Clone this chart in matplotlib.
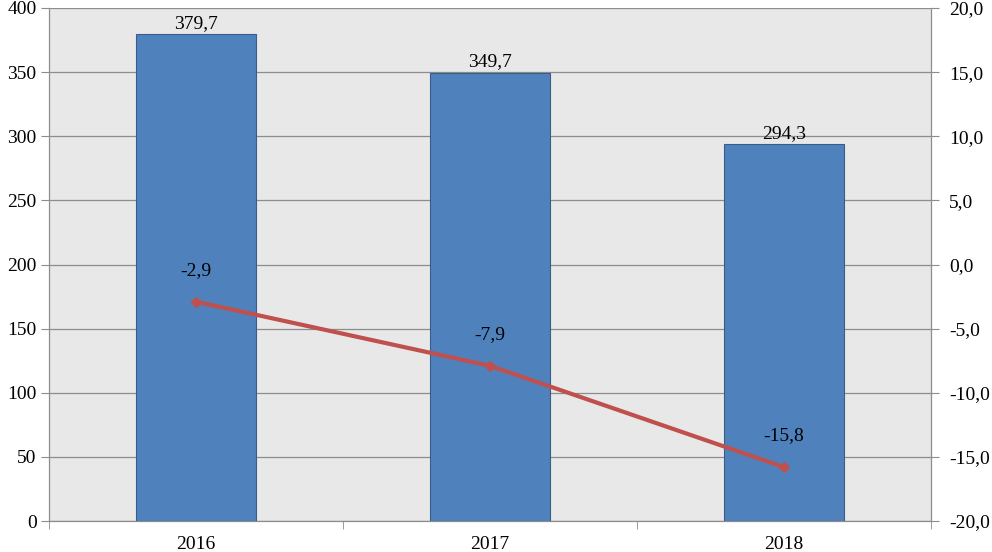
import matplotlib
matplotlib.use("Agg")
import matplotlib.pyplot as plt
import numpy as np

years = ["2016", "2017", "2018"]
bar_values = [379.7, 349.7, 294.3]
line_values = [-2.9, -7.9, -15.8]
left_ticks = [0, 50, 100, 150, 200, 250, 300, 350, 400]
right_ticks = [-20, -15, -10, -5, 0, 5, 10, 15, 20]

plt.rcParams['font.family'] = ['Liberation Serif', 'DejaVu Serif']
FS = 14

fig = plt.figure(figsize=(9.92, 5.52), dpi=100)
ax = fig.add_axes([49/992, 1-521/552, (931-49)/992, (521-8)/552])
ax.set_facecolor('#E8E8E8')
x = np.arange(len(years))
ax.bar(x, bar_values, width=0.405, color='#4F81BD', edgecolor='#385D8A', linewidth=0.8, zorder=3)
ax.set_xlim(-0.5, 2.5)
ax.set_ylim(0, 400)
ax.set_yticks(left_ticks)
ax.set_yticklabels([str(t) for t in left_ticks], fontsize=FS)
ax.grid(axis='y', color='#8C8C8C', linewidth=0.9, zorder=1)
ax.set_xticks(x)
ax.set_xticklabels(years, fontsize=FS)
ax.tick_params(axis='x', length=0, pad=11)
ax.set_xticks([-0.5, 0.5, 1.5, 2.5], minor=True)
ax.tick_params(axis='x', which='minor', length=6, color='#8C8C8C')
ax.tick_params(axis='y', length=6, color='#8C8C8C', pad=3)
ax.spines['top'].set_visible(False)
for s in ['left', 'bottom', 'right']:
    ax.spines[s].set_color('#8C8C8C')
for xi, v in zip(x, bar_values):
    ax.text(xi, v + 1.5, f"{v:.1f}".replace('.', ','), ha='center', va='bottom', fontsize=FS, zorder=5)

ax2 = ax.twinx()
ax2.set_ylim(-20, 20)
ax2.set_yticks(right_ticks)
ax2.set_yticklabels([f"{t:.1f}".replace('.', ',') for t in right_ticks], fontsize=FS)
ax2.tick_params(axis='y', length=6, color='#8C8C8C', pad=7)
ax2.spines['top'].set_visible(False)
for s in ['left', 'bottom', 'right']:
    ax2.spines[s].set_color('#8C8C8C')
ax2.plot(x, line_values, color='#C0504D', linewidth=3, marker='D', markersize=5, zorder=4)
for xi, v in zip(x, line_values):
    ax2.text(xi, v + 1.8, f"{v:.1f}".replace('.', ','), ha='center', va='bottom', fontsize=FS)

fig.savefig("out.png", dpi=100)
